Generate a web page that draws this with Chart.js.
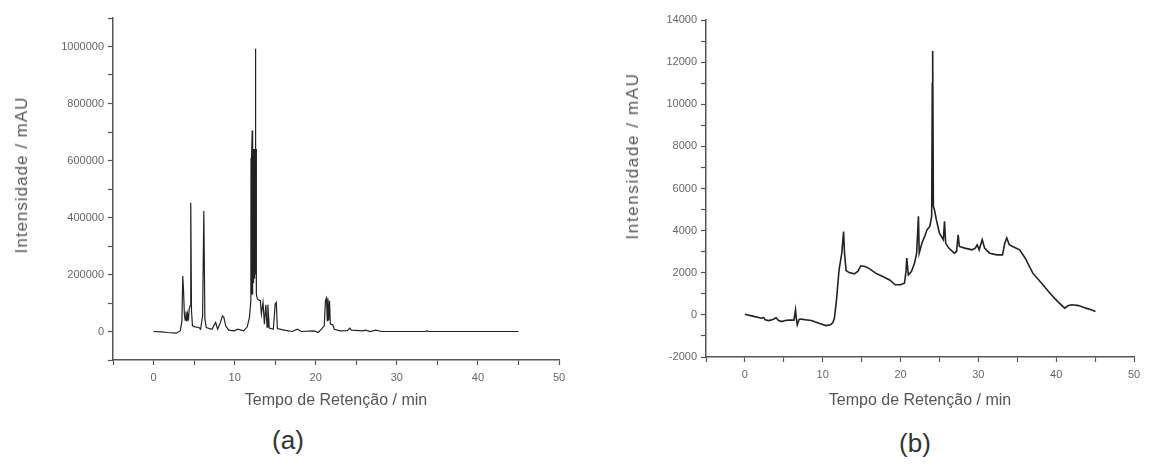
<!DOCTYPE html>
<html lang="pt">
<head>
  <meta charset="UTF-8">
  <title>Cromatogramas (a) e (b)</title>
  <script src="https://cdn.jsdelivr.net/npm/chart.js"></script>
  <style>
    body { margin: 0; background: #fff; font-family: "Liberation Sans", Arial, sans-serif; }
    .panel { position: absolute; top: 0; }
    .panel canvas { display: block; }
    .ytitle { position: absolute; white-space: nowrap; color: #555; font-size: 17px; letter-spacing: 1px;
              transform: translate(-50%, -50%) rotate(-90deg); }
    .tag { position: absolute; color: #333; font-size: 26px; transform: translate(-50%, -50%); }
  </style>
</head>

<body>
  <div class="panel" style="left:0"><canvas id="chartA" width="580" height="420"></canvas></div>
  <div class="panel" style="left:590px"><canvas id="chartB" width="563" height="420"></canvas></div>

  <!-- y axis titles and panel letters -->
  <div class="ytitle" style="left:22px; top:175px">Intensidade / mAU</div>
  <div class="ytitle" style="left:633px; top:156px; letter-spacing:1.6px">Intensidade / mAU</div>
  <div class="tag" style="left:288px; top:440px">(a)</div>
  <div class="tag" style="left:915px; top:443px">(b)</div>

  <script>
    // chromatogram (a): retention time (min) and intensity (mAU)
    const timeA = [
      0, 1.0, 1.7, 2.8, 3.3, 3.5, 3.6, 3.7, 3.8, 3.9,
      4.0, 4.1, 4.2, 4.3, 4.4, 4.5, 4.59, 4.68, 4.8, 5.1,
      5.6, 5.8, 6.05, 6.2, 6.33, 6.5, 7.2, 7.66, 7.9, 8.26,
      8.5, 8.67, 8.9, 9.27, 9.95, 10.4, 11.1, 11.56, 11.83, 12.0,
      12.02, 12.04, 12.06, 12.08, 12.1, 12.12, 12.14, 12.17, 12.19, 12.21,
      12.23, 12.25, 12.27, 12.29, 12.31, 12.33, 12.35, 12.37, 12.39, 12.41,
      12.43, 12.45, 12.47, 12.49, 12.51, 12.53, 12.55, 12.57, 12.6, 12.62,
      12.64, 12.66, 12.7, 12.8, 13.0, 13.17, 13.3, 13.5, 13.67, 13.85,
      14.0, 14.1, 14.27, 14.77, 15.0, 15.14, 15.27, 16.1, 17.1, 17.75,
      18.2, 19.8, 20.3, 20.7, 21.05, 21.2, 21.33, 21.42, 21.5, 21.6,
      21.7, 21.8, 22.1, 22.3, 23.0, 23.9, 24.2, 24.4, 25.8, 26.2,
      26.7, 27.4, 28.1, 33.5, 33.7, 33.9, 45
    ];
    const intensA = [
      0, -1000, -3500, -6000, 2000, 37000, 195000, 144000, 61000, 40000,
      70000, 35000, 62000, 38000, 80000, 90000, 452000, 73000, 20000, 16500,
      14000, 8000, 55000, 423000, 44000, 14000, 8000, 32000, 8000, 32000,
      55000, 50000, 20000, 5000, 2400, 8000, 2400, 16500, 50000, 108000,
      610000, 130000, 615000, 140000, 612000, 160000, 615000, 705000, 130000, 615000,
      150000, 618000, 180000, 640000, 170000, 640000, 190000, 640000, 220000, 640000,
      200000, 640000, 185000, 640000, 210000, 640000, 200000, 640000, 992000, 250000,
      640000, 200000, 130000, 114000, 110000, 108000, 61000, 102000, 26000, 94000,
      15000, 94000, 12000, 8000, 97000, 102000, 10500, 5000, 0, 8000,
      0, 2000, -3500, 8000, 20000, 108000, 117000, 38000, 117000, 40000,
      108000, 26000, 23500, 8000, 2400, 3000, 12000, 5000, 2000, 5000,
      0, 5000, 0, 0, 2000, 0, 0
    ];

    // chromatogram (b)
    const timeB = [
      0, 1.0, 2.15, 2.4, 2.6, 3.07, 3.6, 4.0, 4.3, 4.7,
      5.3, 5.8, 6.3, 6.5, 6.6, 6.73, 6.96, 7.2, 8.0, 8.56,
      9.5, 10.4, 11.0, 11.3, 11.5, 11.77, 12.1, 12.45, 12.68, 12.8,
      13.0, 13.4, 14.05, 14.5, 14.9, 15.4, 15.9, 16.8, 17.7, 18.6,
      19.3, 20.0, 20.5, 20.7, 20.8, 21.0, 21.4, 21.8, 22.07, 22.3,
      22.4, 22.75, 23.1, 23.4, 23.76, 24.0, 24.08, 24.11, 24.15, 24.22,
      24.35, 24.6, 25.0, 25.5, 25.65, 25.8, 26.2, 26.9, 27.2, 27.4,
      27.56, 28.25, 29.2, 29.6, 29.85, 30.1, 30.5, 30.8, 31.45, 32.4,
      33.1, 33.4, 33.65, 33.97, 34.4, 35.3, 36.0, 37.0, 38.3, 39.2,
      40.2, 41.1, 41.5, 42.0, 42.9, 43.8, 44.5, 45.05
    ];
    const intensB = [
      30, -60, -160, -120, -230, -270, -220, -140, -260, -320,
      -260, -240, -250, 240, -150, -475, -220, -200, -240, -270,
      -400, -510, -470, -365, -160, 710, 2140, 2930, 3960, 2930,
      2110, 2010, 1950, 2060, 2330, 2300, 2220, 1980, 1820, 1660,
      1430, 1430, 1500, 2060, 2700, 1900, 2060, 2460, 2930, 4680,
      2930, 3410, 3725, 4040, 4200, 4680, 11020, 5200, 12530, 5150,
      5000, 4520, 3880, 3570, 4440, 3410, 3170, 2930, 3010, 3800,
      3250, 3170, 3090, 3170, 3330, 3090, 3570, 3170, 2930, 2850,
      2850, 3410, 3650, 3330, 3250, 3090, 2700, 1980, 1430, 1030,
      630, 320, 430, 480, 440, 320, 240, 160
    ];

    // labelled ticks (the other ticks are minor)
    const xTickLabels = [0, 10, 20, 30, 40, 50];
    const yTickLabelsA = [0, 200000, 400000, 600000, 800000, 1000000];
    const yTickLabelsB = [-2000, 0, 2000, 4000, 6000, 8000, 10000, 12000, 14000];

    Chart.defaults.font.family = '"Liberation Sans", Arial, sans-serif';
    Chart.defaults.color = '#666';

    function makeChart(id, times, values, cfg) {
      const axisGrid = { drawOnChartArea: false, tickLength: 5, tickColor: '#555', tickWidth: 1.2 };
      const axisBorder = { color: '#555', width: 1.5 };
      return new Chart(document.getElementById(id), {
        type: 'line',
        data: {
          datasets: [{
            data: times.map((t, i) => ({ x: t, y: values[i] })),
            borderColor: cfg.lineColor,
            borderWidth: cfg.lineWidth,
            pointRadius: 0,
            tension: 0
          }]
        },
        options: {
          responsive: false,
          animation: false,
          layout: { padding: cfg.padding },
          plugins: { legend: { display: false }, tooltip: { enabled: false } },
          scales: {
            x: {
              type: 'linear',
              min: -5, max: 50,
              grid: axisGrid,
              border: axisBorder,
              ticks: {
                stepSize: 5, autoSkip: false, maxRotation: 0, padding: 6,
                font: { size: 11 },
                callback: v => xTickLabels.includes(v) ? String(v) : ''
              },
              title: {
                display: true, text: 'Tempo de Retenção / min', color: '#555',
                font: { size: 16 }, padding: { top: 0, bottom: 10 }
              },
              afterFit: s => { s.height = cfg.xHeight; }
            },
            y: {
              type: 'linear',
              min: cfg.yMin, max: cfg.yMax,
              grid: axisGrid,
              border: axisBorder,
              ticks: {
                stepSize: cfg.yStep, autoSkip: false, padding: 4,
                font: { size: 11 },
                callback: v => cfg.yLabels.includes(v) ? String(v) : ''
              },
              afterFit: s => { s.width = cfg.yWidth; }
            }
          }
        }
      });
    }

    makeChart('chartA', timeA, intensA, {
      yMin: -100000, yMax: 1100000, yStep: 100000, yLabels: yTickLabelsA,
      yWidth: 113, xHeight: 60,
      padding: { top: 18, right: 21, bottom: 0, left: 0 },
      lineColor: '#222', lineWidth: 1.2
    });

    makeChart('chartB', timeB, intensB, {
      yMin: -2000, yMax: 14000, yStep: 1000, yLabels: yTickLabelsB,
      yWidth: 116, xHeight: 63,
      padding: { top: 20, right: 19, bottom: 0, left: 0 },
      lineColor: '#222', lineWidth: 1.6
    });
  </script>
</body>

</html>
